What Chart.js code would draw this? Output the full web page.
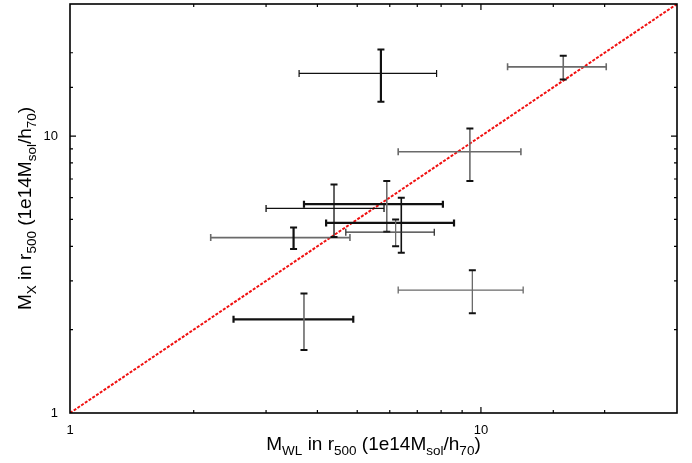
<!DOCTYPE html>
<html>
<head>
<meta charset="utf-8">
<script src="https://cdn.jsdelivr.net/npm/chart.js@4.4.1/dist/chart.umd.min.js"></script>
<style>
  html, body { margin: 0; padding: 0; background: #fff; }
  #wrap { width: 692px; height: 463px; position: relative; }
</style>
</head>
<body>
<div id="wrap"><canvas id="c" width="692" height="463"></canvas></div>
<script>
// ---- Data ----
const wlMass = [5.71, 15.86, 9.40, 9.53, 3.71, 3.50, 4.39, 5.90, 6.40, 6.20];
const wlLow  = [3.61, 11.61, 6.29, 6.29, 2.50, 2.20, 3.00, 3.71, 4.20, 4.69];
const wlHigh = [7.80, 20.18, 12.51, 12.67, 4.89, 4.80, 5.81, 8.08, 8.60, 7.70];
const xMass  = [16.84, 17.79, 8.78, 2.78, 2.18, 4.30, 5.48, 5.68, 4.86, 4.50];
const xLow   = [13.30, 16.02, 6.88, 2.29, 1.69, 3.91, 4.32, 4.51, 3.79, 4.00];
const xHigh  = [20.56, 19.50, 10.66, 3.28, 2.70, 4.68, 6.69, 6.88, 5.99, 5.00];
const oneToOne = [1, 30];
const tickLabels = [1, 10];

// ---- Styles (per point: horizontal bar, vertical bar) ----
const K = '#111', G = '#6a6a6a';
const barStyle = [
  {hc: K, hw: 1.2, vc: K, vw: 2.2},
  {hc: G, hw: 1.6, vc: G, vw: 1.6},
  {hc: G, hw: 1.6, vc: G, vw: 1.6},
  {hc: G, hw: 1.3, vc: G, vw: 1.3},
  {hc: K, hw: 2.2, vc: G, vw: 1.6},
  {hc: G, hw: 1.6, vc: K, vw: 2.2},
  {hc: K, hw: 1.3, vc: K, vw: 1.3},
  {hc: K, hw: 2.2, vc: G, vw: 1.6},
  {hc: K, hw: 2.2, vc: K, vw: 1.6},
  {hc: '#333', hw: 1.3, vc: G, vw: 1.3}
];

const errorBars = {
  id: 'errorBars',
  afterDatasetsDraw(chart) {
    const ctx = chart.ctx, xs = chart.scales.x, ys = chart.scales.y;
    const cap = 3.5;
    ctx.save();
    ctx.lineCap = 'butt';
    for (let i = 0; i < wlMass.length; i++) {
      const s = barStyle[i];
      const px = xs.getPixelForValue(wlMass[i]);
      const py = ys.getPixelForValue(xMass[i]);
      const x0 = xs.getPixelForValue(wlLow[i]), x1 = xs.getPixelForValue(wlHigh[i]);
      const y0 = ys.getPixelForValue(xLow[i]), y1 = ys.getPixelForValue(xHigh[i]);
      ctx.strokeStyle = s.hc; ctx.lineWidth = s.hw;
      ctx.beginPath();
      ctx.moveTo(x0, py); ctx.lineTo(x1, py);
      ctx.moveTo(x0, py - cap); ctx.lineTo(x0, py + cap);
      ctx.moveTo(x1, py - cap); ctx.lineTo(x1, py + cap);
      ctx.stroke();
      ctx.strokeStyle = s.vc; ctx.lineWidth = s.vw;
      ctx.beginPath();
      ctx.moveTo(px, y0); ctx.lineTo(px, y1);
      ctx.stroke();
      ctx.strokeStyle = K; ctx.lineWidth = 2;
      ctx.beginPath();
      ctx.moveTo(px - cap, y0); ctx.lineTo(px + cap, y0);
      ctx.moveTo(px - cap, y1); ctx.lineTo(px + cap, y1);
      ctx.stroke();
    }
    ctx.restore();
  }
};

const frame = {
  id: 'frame',
  afterDraw(chart) {
    const ctx = chart.ctx, a = chart.chartArea, xs = chart.scales.x, ys = chart.scales.y;
    ctx.save();
    ctx.strokeStyle = '#000';
    ctx.lineWidth = 1.6;
    ctx.strokeRect(a.left, a.top, a.right - a.left, a.bottom - a.top);
    ctx.lineWidth = 1.2;
    ctx.beginPath();
    xs.ticks.forEach(t => {
      const p = xs.getPixelForValue(t.value);
      if (p <= a.left + 1 || p >= a.right - 1) return;
      const major = tickLabels.includes(t.value);
      const L = major ? 6 : 3;
      ctx.moveTo(p, a.bottom); ctx.lineTo(p, a.bottom - L);
      ctx.moveTo(p, a.top); ctx.lineTo(p, a.top + L);
    });
    ys.ticks.forEach(t => {
      const p = ys.getPixelForValue(t.value);
      if (p <= a.top + 1 || p >= a.bottom - 1) return;
      const major = tickLabels.includes(t.value);
      const L = major ? 6 : 3;
      ctx.moveTo(a.left, p); ctx.lineTo(a.left + L, p);
      ctx.moveTo(a.right, p); ctx.lineTo(a.right - L, p);
    });
    ctx.stroke();

    const big = '19px "Liberation Sans", Arial, sans-serif';
    const small = '13.5px "Liberation Sans", Arial, sans-serif';
    function parts(list) {
      return list.map(([t, sub]) => ({t, sub, font: sub ? small : big}));
    }
    function width(ps) {
      let w = 0;
      ps.forEach(p => { ctx.font = p.font; w += ctx.measureText(p.t).width; });
      return w;
    }
    function drawParts(ps, x, y) {
      ps.forEach(p => {
        ctx.font = p.font;
        ctx.fillText(p.t, x, y + (p.sub ? 5 : 0));
        x += ctx.measureText(p.t).width;
      });
    }
    ctx.fillStyle = '#000';
    ctx.textBaseline = 'alphabetic';
    ctx.textAlign = 'left';
    const xt = parts([['M'], ['WL', 1], [' in r'], ['500', 1], [' (1e14M'], ['sol', 1], ['/h'], ['70', 1], [')']]);
    const xw = width(xt);
    drawParts(xt, (a.left + a.right) / 2 - xw / 2, 450);
    const yt = parts([['M'], ['X', 1], [' in r'], ['500', 1], [' (1e14M'], ['sol', 1], ['/h'], ['70', 1], [')']]);
    const yw = width(yt);
    ctx.translate(31, (a.top + a.bottom) / 2);
    ctx.rotate(-Math.PI / 2);
    drawParts(yt, -yw / 2, 0);
    ctx.restore();
  }
};

const tickCb = (v) => tickLabels.includes(v) ? String(v) : '';

new Chart(document.getElementById('c'), {
  type: 'scatter',
  data: {
    datasets: [{
      data: oneToOne.map(v => ({x: v, y: v})),
      showLine: true,
      borderColor: '#f01010',
      borderWidth: 2,
      borderDash: [3, 1.5],
      pointRadius: 0,
      fill: false
    }]
  },
  options: {
    responsive: false,
    animation: false,
    layout: { padding: { top: 4, right: 15, left: 0, bottom: 0 } },
    plugins: { legend: { display: false }, tooltip: { enabled: false } },
    scales: {
      x: {
        type: 'logarithmic', min: 1, max: 30,
        grid: { display: false },
        border: { display: false },
        ticks: { callback: tickCb, autoSkip: false, maxRotation: 0, color: '#000', padding: 2,
                 font: { size: 13, family: '"Liberation Sans", Arial, sans-serif' } },
        afterFit(s) { s.height = 50; s.paddingLeft = 0; s.paddingRight = 0; }
      },
      y: {
        type: 'logarithmic', min: 1, max: 30,
        grid: { display: false },
        border: { display: false },
        ticks: { callback: tickCb, autoSkip: false, color: '#000', padding: 4,
                 font: { size: 13, family: '"Liberation Sans", Arial, sans-serif' } },
        afterFit(s) { s.width = 70; s.paddingTop = 0; s.paddingBottom = 0; }
      }
    }
  },
  plugins: [errorBars, frame]
});
</script>
</body>
</html>
